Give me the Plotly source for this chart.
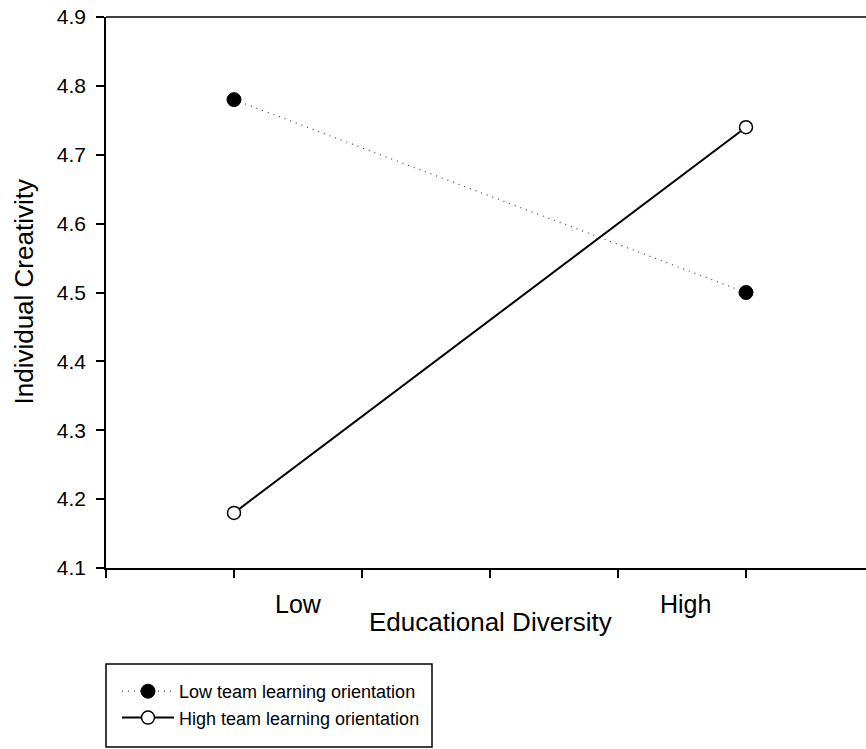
import plotly.graph_objects as go

# Data
categories = ["Low", "High"]
x_positions = [1, 5]
low_tlo = [4.78, 4.50]
high_tlo = [4.18, 4.74]
series_names = ["Low team learning orientation", "High team learning orientation"]
y_ticks = [4.1, 4.2, 4.3, 4.4, 4.5, 4.6, 4.7, 4.8, 4.9]

FONT = "Liberation Sans, Arial, sans-serif"

fig = go.Figure()
fig.add_trace(go.Scatter(
    x=x_positions, y=low_tlo, name=series_names[0], mode="lines+markers",
    line=dict(color="#444444", width=1.2, dash="1px,5px"),
    marker=dict(symbol="circle", size=14, color="black", line=dict(color="black", width=1)),
))
fig.add_trace(go.Scatter(
    x=x_positions, y=high_tlo, name=series_names[1], mode="lines+markers",
    line=dict(color="black", width=2),
    marker=dict(symbol="circle", size=13, color="white", line=dict(color="black", width=1.5)),
))

PLOT_W = 760
PLOT_H = 551

fig.update_layout(
    width=866, height=749,
    margin=dict(l=106, r=0, t=17, b=181),
    paper_bgcolor="white", plot_bgcolor="white",
    font=dict(family=FONT, color="black"),
    showlegend=True,
    legend=dict(
        x=(117 - 106) / PLOT_W, y=(568 - 673) / PLOT_H, xanchor="left", yanchor="top",
        font=dict(family=FONT, size=18, color="black"),
        bgcolor="rgba(0,0,0,0)", borderwidth=0,
        itemwidth=52, tracegroupgap=0,
    ),
    xaxis=dict(
        range=[0, 760 / 128], tickvals=[0, 1, 2, 3, 4, 5, 6], showticklabels=False,
        ticks="outside", ticklen=8, tickwidth=1.5, tickcolor="black",
        showline=True, linecolor="black", linewidth=1.5,
        showgrid=False, zeroline=False, fixedrange=True,
    ),
    yaxis=dict(
        range=[4.1, 4.9], tickvals=y_ticks, tickformat=".1f",
        ticks="outside", ticklen=8, tickwidth=1.5, tickcolor="black",
        tickfont=dict(family=FONT, size=21, color="black"),
        ticklabelstandoff=6, ticklabeloverflow="allow",
        showline=True, linecolor="black", linewidth=1.5,
        showgrid=False, zeroline=False, fixedrange=True,
    ),
)

# Top frame line
fig.add_shape(type="line", xref="paper", yref="paper", x0=0, x1=1, y0=1, y1=1,
              line=dict(color="black", width=1.5))

# Legend box
fig.add_shape(type="rect", xref="paper", yref="paper",
              x0=0, x1=(432 - 106) / PLOT_W, y0=(568 - 747) / PLOT_H, y1=(568 - 664) / PLOT_H,
              line=dict(color="black", width=1.5), fillcolor="rgba(0,0,0,0)")

# Category labels
label_x = [1.5, 4.53]
for lx, txt in zip(label_x, categories):
    fig.add_annotation(x=lx, y=0, xref="x", yref="paper", text=txt, showarrow=False,
                       yanchor="middle", yshift=-36, font=dict(family=FONT, size=25, color="black"))

# Axis titles
fig.add_annotation(x=3, y=0, xref="x", yref="paper", text="Educational Diversity", showarrow=False,
                   yanchor="middle", yshift=-54, font=dict(family=FONT, size=26, color="black"))
fig.add_annotation(x=0, y=0.5, xref="paper", yref="paper", text="Individual Creativity", showarrow=False,
                   textangle=-90, xanchor="center", yanchor="middle", xshift=-83,
                   font=dict(family=FONT, size=26, color="black"))

fig.write_html(
    "out.html",
    config={"displayModeBar": False},
    post_script=(
        "document.body.style.margin='0';"
        "document.body.style.overflow='hidden';"
        "document.documentElement.style.overflow='hidden';"
    ),
)
